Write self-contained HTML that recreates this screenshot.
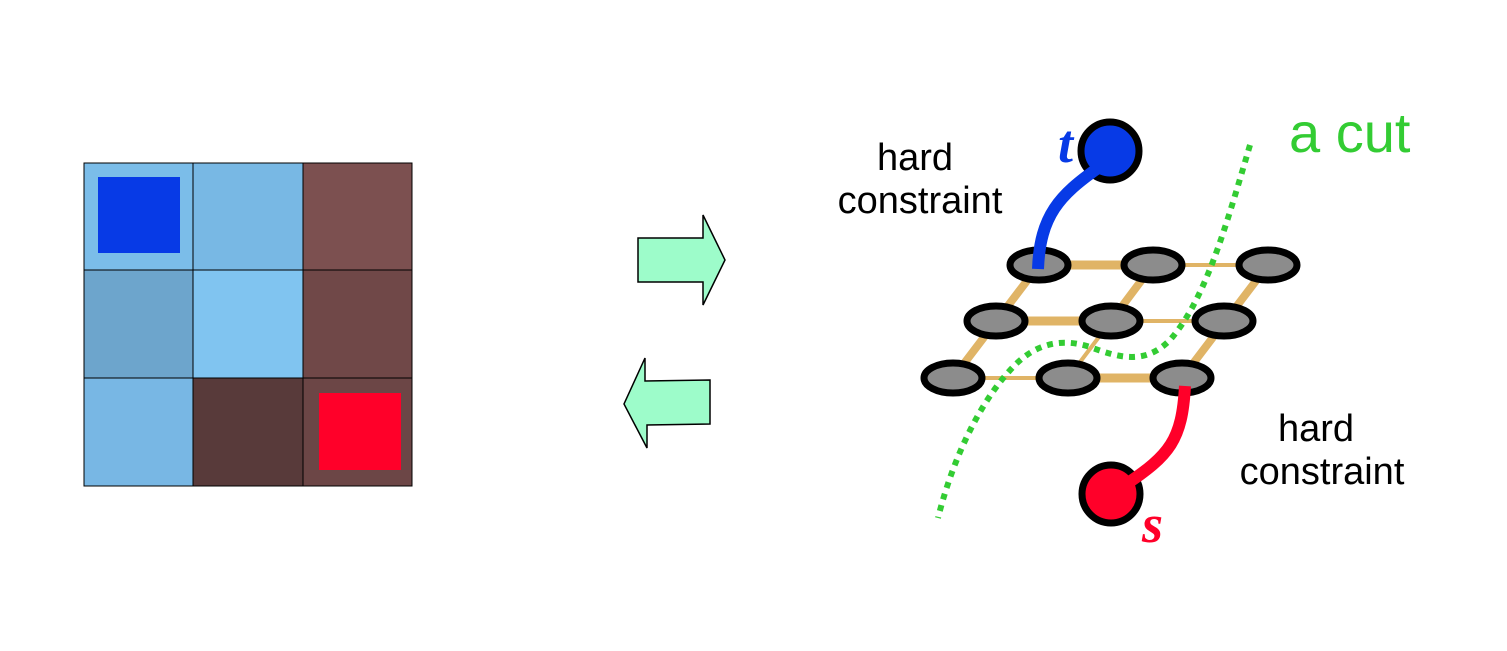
<!DOCTYPE html>
<html><head><meta charset="utf-8"><style>body{margin:0;background:#fff}</style></head><body>
<svg width="1507" height="651" xmlns="http://www.w3.org/2000/svg" style="display:block">
<g stroke="#000" stroke-width="1">
<rect x="84" y="163" width="109" height="107" fill="#7bbde9"/>
<rect x="193" y="163" width="110" height="107" fill="#78b8e4"/>
<rect x="303" y="163" width="109" height="107" fill="#7c5050"/>
<rect x="84" y="270" width="109" height="108" fill="#6da5cc"/>
<rect x="193" y="270" width="110" height="108" fill="#80c4f0"/>
<rect x="303" y="270" width="109" height="108" fill="#704848"/>
<rect x="84" y="378" width="109" height="108" fill="#78b7e4"/>
<rect x="193" y="378" width="110" height="108" fill="#583a3a"/>
<rect x="303" y="378" width="109" height="108" fill="#6c4646"/>
</g>
<rect x="98" y="177" width="82" height="76" fill="#073ae6"/>
<rect x="319" y="393" width="82" height="77" fill="#ff0029"/>
<polygon points="638,238 703,238 703,215 725,260 703,305 703,282 638,282" fill="#9dfcca" stroke="#000" stroke-width="1.5"/>
<polygon points="710,380 645,381 645,358 624,404 647,448 647,425 710,424" fill="#9dfcca" stroke="#000" stroke-width="1.5"/>
<g stroke="#e0b466" stroke-linecap="round">
<line x1="1039" y1="265" x2="1153" y2="265" stroke-width="9"/>
<line x1="1153" y1="265" x2="1268" y2="265" stroke-width="4"/>
<line x1="996" y1="321" x2="1111" y2="321" stroke-width="9"/>
<line x1="1111" y1="321" x2="1224" y2="321" stroke-width="4"/>
<line x1="953" y1="378" x2="1068" y2="378" stroke-width="4"/>
<line x1="1068" y1="378" x2="1182" y2="378" stroke-width="9"/>
<line x1="1039" y1="265" x2="953" y2="378" stroke-width="8"/>
<line x1="1153" y1="265" x2="1111" y2="321" stroke-width="8"/>
<line x1="1111" y1="321" x2="1068" y2="378" stroke-width="4"/>
<line x1="1268" y1="265" x2="1182" y2="378" stroke-width="8"/>
</g>
<path d="M1250,145 C1225,230 1205,300 1170,340 C1145,365 1120,358 1090,347 C1060,337 1035,345 1015,365 C985,395 955,450 938,518" fill="none" stroke="#33cc33" stroke-width="6" stroke-dasharray="6,6"/>
<g fill="#8c8c8c" stroke="#000" stroke-width="7">
<ellipse cx="1039" cy="265" rx="29" ry="15"/><ellipse cx="1153" cy="265" rx="29" ry="15"/><ellipse cx="1268" cy="265" rx="29" ry="15"/>
<ellipse cx="996" cy="321" rx="29" ry="15"/><ellipse cx="1111" cy="321" rx="29" ry="15"/><ellipse cx="1224" cy="321" rx="29" ry="15"/>
<ellipse cx="953" cy="378" rx="29" ry="15"/><ellipse cx="1068" cy="378" rx="29" ry="15"/><ellipse cx="1182" cy="378" rx="29" ry="15"/>
</g>
<circle cx="1110" cy="151" r="29" fill="#073ae6" stroke="#000" stroke-width="7"/>
<path d="M1038,269 C1040,215 1060,195 1098,168" fill="none" stroke="#073ae6" stroke-width="12"/>
<circle cx="1111" cy="494" r="29" fill="#ff0029" stroke="#000" stroke-width="7"/>
<path d="M1185,386 C1182,440 1170,455 1125,485" fill="none" stroke="#ff0029" stroke-width="12"/>
<text x="1058" y="162" font-family="Liberation Serif, serif" font-style="italic" font-weight="bold" font-size="54" fill="#073ae6">t</text>
<text x="1142" y="542" font-family="Liberation Serif, serif" font-style="italic" font-weight="bold" font-size="54" fill="#ff0029">s</text>
<text x="1289" y="152" font-family="Liberation Sans, sans-serif" font-size="56" fill="#33cc33">a cut</text>
<g font-family="Liberation Sans, sans-serif" font-size="38" fill="#000" text-anchor="middle">
<text x="915" y="170">hard</text><text x="920" y="213">constraint</text>
<text x="1316" y="441">hard</text><text x="1322" y="484">constraint</text>
</g>
</svg>
</body></html>
